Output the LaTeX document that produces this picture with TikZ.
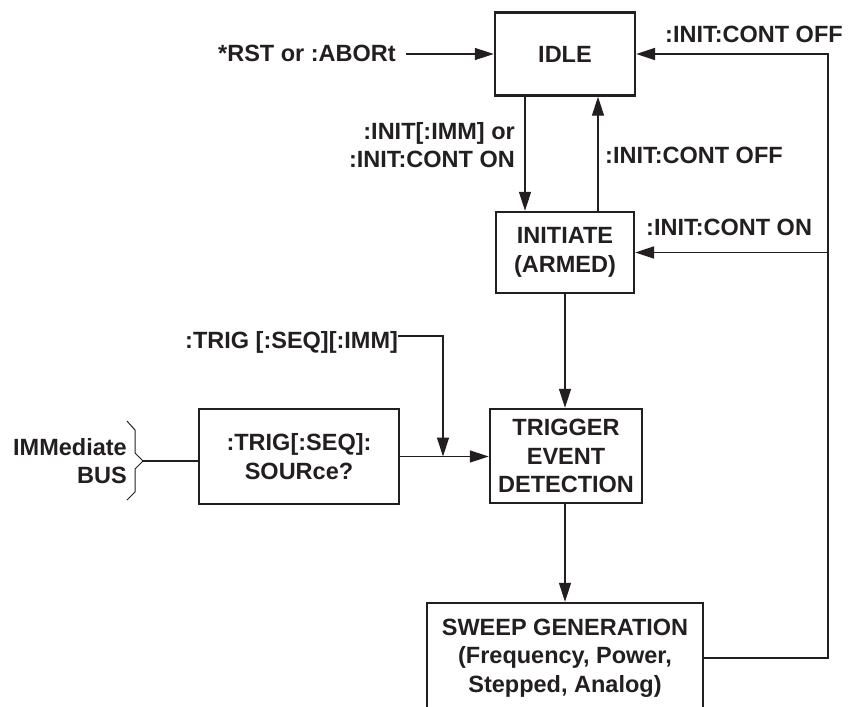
\documentclass[tikz,border=0pt]{standalone}
\usepackage{fontspec}
\setmainfont{Liberation Sans}
\usetikzlibrary{arrows.meta,calc}
\definecolor{ink}{HTML}{231F20}
\begin{document}
\begin{tikzpicture}[x=1pt,y=-1pt,
  every node/.style={font=\fontsize{23.5}{28.5}\selectfont\bfseries, text=ink},
  box/.style={draw=ink, line width=2.4pt, inner sep=0pt, align=center},
  lbl/.style={inner sep=0pt},
  conn/.style={draw=ink, line width=1.3pt},
  tip/.style={-{Triangle[length=19pt,width=12pt]}},
  arr/.style={conn, tip},
  loopline/.style={draw=ink, line width=1.8pt}]
\useasboundingbox (0,0) rectangle (858,706);
\fill[white] (0,0) rectangle (858,706);

% boxes
\node[box, minimum width=140pt, minimum height=83pt] (idle) at (565,54) {IDLE};
\node[box, minimum width=138pt, minimum height=81pt] (init) at (565,252.5) {INITIATE\\(ARMED)};
\node[box, minimum width=152pt, minimum height=94pt] (trig) at (566,456) {TRIGGER\\EVENT\\DETECTION};
\node[box, minimum width=200pt, minimum height=95pt] (src) at (299,456.5) {:TRIG[:SEQ]:\\SOURce?};
\node[box, minimum width=276pt, minimum height=110pt] (sweep) at (565,658) {SWEEP GENERATION\\(Frequency, Power,\\Stepped, Analog)};

% labels
\node[lbl, anchor=base west] (rst) at (218,62) {*RST or :ABORt};
\node[lbl, anchor=east, align=right] (initlbl) at (515,145) {:INIT[:IMM] or\\:INIT:CONT ON};
\node[lbl, anchor=base west] (offmid) at (605,163) {:INIT:CONT OFF};
\node[lbl, anchor=base west] (offtop) at (665,43) {:INIT:CONT OFF};
\node[lbl, anchor=base west] (onlbl) at (646,235) {:INIT:CONT ON};
\node[lbl, anchor=base west] (trigimm) at (185,348) {:TRIG [:SEQ][:IMM]};
\node[lbl, anchor=east, align=right] (immbus) at (127,461) {IMMediate\\BUS};

% connectors
\draw[arr] ([xshift=10pt]rst.east |- idle.west) -- (idle.west);
\draw[arr] ([xshift=-40pt]idle.south) -- ([xshift=-40pt]init.north);
\draw[arr] ([xshift=33pt]init.north) -- ([xshift=33pt]idle.south);
\draw[arr] (init.south) -- (init.south |- trig.north);
\draw[arr] (sweep.north |- trig.south) -- (sweep.north);

\coordinate (lc) at (828,656);
\draw[loopline, tip] (sweep.east) -| (lc |- idle.east) -- (idle.east);
\draw[loopline, tip] (lc |- init.east) -- (init.east);

\coordinate (junc) at (443,456);
\draw[arr] (src.east) -- (src.east -| trig.west);
\draw[arr] ([yshift=12pt]trigimm.base east) -| (junc |- src.east);

% brace
\coordinate (btip) at (143,461);
\draw[draw=ink, line width=1pt] (127,421) -- (135,430) -- (135,453) -- (btip) -- (135,469) -- (135,492) -- (127,500);
\draw[conn] (btip) -- (btip -| src.west);
\end{tikzpicture}
\end{document}
